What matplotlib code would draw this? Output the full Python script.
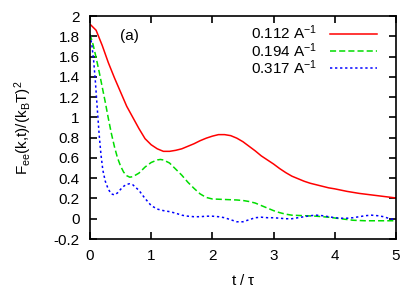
import numpy as np
import matplotlib
matplotlib.use('Agg')
import matplotlib.pyplot as plt

plt.rcParams['font.family'] = ['Liberation Sans', 'DejaVu Sans']
plt.rcParams['mathtext.fontset'] = 'custom'
plt.rcParams['mathtext.rm'] = 'Liberation Sans'
plt.rcParams['mathtext.it'] = 'Liberation Sans'

# values
t_red = [0, 0.1, 0.2, 0.3, 0.4, 0.5, 0.6, 0.7, 0.8, 0.9, 1.0, 1.1, 1.2, 1.3, 1.4, 1.5, 1.6, 1.7, 1.8, 1.9,
         2.0, 2.1, 2.2, 2.3, 2.4, 2.5, 2.6, 2.7, 2.8, 2.9, 3.0, 3.1, 3.2, 3.3, 3.4, 3.5, 3.6, 3.7, 3.8, 3.9,
         4.0, 4.2, 4.4, 4.6, 4.8, 5.0]
f_red = [1.92, 1.86, 1.71, 1.54, 1.39, 1.25, 1.11, 1.0, 0.89, 0.79, 0.73, 0.69, 0.665, 0.665, 0.675, 0.69, 0.715, 0.74, 0.77, 0.795,
         0.815, 0.83, 0.83, 0.82, 0.795, 0.76, 0.715, 0.67, 0.62, 0.58, 0.54, 0.495, 0.455, 0.42, 0.395, 0.37, 0.35, 0.335, 0.32, 0.305,
         0.295, 0.27, 0.25, 0.235, 0.22, 0.205]

t_green = [0, 0.05, 0.1, 0.15, 0.2, 0.25, 0.3, 0.35, 0.4, 0.45, 0.5, 0.55, 0.6, 0.65, 0.7, 0.8, 0.9, 1.0, 1.1, 1.15,
           1.2, 1.3, 1.4, 1.5, 1.6, 1.7, 1.8, 1.9, 2.0, 2.2, 2.4, 2.5, 2.6, 2.7, 2.8, 2.9, 3.0, 3.1, 3.2, 3.3,
           3.5, 3.7, 3.9, 4.1, 4.3, 4.5, 5.0]
f_green = [1.82, 1.72, 1.59, 1.45, 1.30, 1.15, 0.99, 0.84, 0.71, 0.60, 0.52, 0.46, 0.425, 0.41, 0.415, 0.45, 0.51, 0.555, 0.58, 0.585,
           0.58, 0.55, 0.49, 0.43, 0.36, 0.30, 0.245, 0.21, 0.195, 0.19, 0.185, 0.18, 0.17, 0.155, 0.13, 0.105, 0.08, 0.06, 0.045, 0.035,
           0.03, 0.025, 0.015, 0.0, -0.015, -0.02, -0.02]

t_blue = [0, 0.03, 0.06, 0.09, 0.12, 0.15, 0.18, 0.21, 0.25, 0.3, 0.35, 0.4, 0.45, 0.5, 0.55, 0.6, 0.65, 0.7, 0.8, 0.9,
          1.0, 1.1, 1.2, 1.3, 1.4, 1.5, 1.6, 1.7, 1.8, 1.9, 2.0, 2.1, 2.2, 2.3, 2.4, 2.5, 2.6, 2.7, 2.8, 2.9,
          3.0, 3.1, 3.2, 3.3, 3.4, 3.5, 3.6, 3.7, 3.8, 3.9, 4.0, 4.1, 4.2, 4.3, 4.4, 4.5, 4.6, 4.7, 4.8, 4.9, 5.0]
f_blue = [1.81, 1.72, 1.56, 1.34, 1.08, 0.83, 0.63, 0.48, 0.37, 0.29, 0.245, 0.235, 0.255, 0.29, 0.32, 0.34, 0.345, 0.335, 0.28, 0.2,
          0.13, 0.095, 0.08, 0.07, 0.055, 0.035, 0.025, 0.02, 0.02, 0.025, 0.025, 0.02, 0.01, -0.01, -0.03, -0.03, -0.01, 0.01, 0.015, 0.01,
          0.01, 0.005, 0.0, 0.0, 0.01, 0.02, 0.03, 0.035, 0.03, 0.02, 0.01, 0.005, 0.005, 0.01, 0.02, 0.03, 0.035, 0.03, 0.02, 0.0, -0.01]

labels = ['0.112 A$^{-1}$', '0.194 A$^{-1}$', '0.317 A$^{-1}$']
ytick_labels = ['-0.2', '0', '0.2', '0.4', '0.6', '0.8', '1', '1.2', '1.4', '1.6', '1.8', '2']

fig = plt.figure(figsize=(4.09, 2.92), dpi=100)
ax = fig.add_axes([0.220, 0.1815, 0.748, 0.7635])

ax.plot(t_red, f_red, color='#ff0000', lw=1.1, label=labels[0])
ax.plot(t_green, f_green, color='#00dd00', lw=1.1, dashes=(4, 2), label=labels[1])
ax.plot(t_blue, f_blue, color='#0000ff', lw=1.1, dashes=(1.5, 1.8), label=labels[2])

ax.set_xlim(0, 5)
ax.set_ylim(-0.2, 2)
ax.set_xticks(np.arange(0, 5.1, 1))
ax.set_yticks(np.arange(-0.2, 2.01, 0.2))
ax.set_yticklabels(ytick_labels)
ax.tick_params(direction='in', length=5, width=1.2, top=True, right=True, labelsize=11, pad=7.5)
[sp.set_linewidth(1.2) for sp in ax.spines.values()]

ax.set_xlabel(r't / $\tau$', fontsize=11, labelpad=7)
ax.set_ylabel(r'F$_{\mathregular{ee}}$(k,t)/(k$_{\mathregular{B}}$T)$^2$', fontsize=11, labelpad=14)
ax.text(0.65, 1.80, '(a)', ha='center', va='center', fontsize=11)

ax.legend(loc='upper right', bbox_to_anchor=(0.938, 0.965), frameon=False, markerfirst=False, fontsize=11,
          handlelength=3.1, handletextpad=0.8, labelspacing=-0.1,
          borderaxespad=0, borderpad=0)

fig.savefig('out.png', dpi=100)
